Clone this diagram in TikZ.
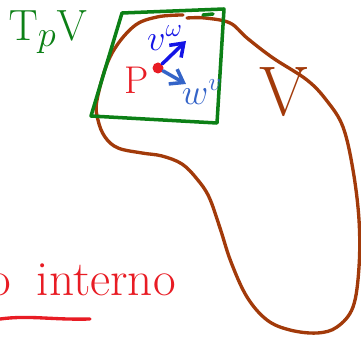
\documentclass[tikz,border=0pt]{standalone}
\usepackage{amsmath}
\usetikzlibrary{arrows.meta,positioning}
\definecolor{planegreen}{RGB}{12,128,22}
\definecolor{mbrown}{RGB}{162,58,10}
\definecolor{pred}{RGB}{232,28,36}
\definecolor{vblue}{RGB}{20,20,230}
\definecolor{wblue}{RGB}{52,100,200}

\begin{document}
\begin{tikzpicture}[
    x=0.02cm, y=-0.02cm,
    plane/.style={draw=planegreen, line width=2pt, line join=round, line cap=round},
    manifold/.style={draw=mbrown, line width=1.9pt, line cap=round},
    vecarrow/.style={-{Straight Barb[length=2.4mm, width=3.4mm]}, line width=2pt, line cap=round},
    lbl/.style={inner sep=0pt}
  ]
  \useasboundingbox (0,0) rectangle (361,337);

  % manifold V
  \draw[manifold] plot[smooth, tension=0.6] coordinates {
    (187,18) (205,18) (230,23) (247,38) (273,58) (307,80) (327,101)
    (343,127) (353,170) (359,220) (359,267) (353,307) (337,327)
    (317,333) (290,330) (267,320) (247,297) (231,262) (220,228)
    (209,197) (197,179) (182,164) (162,156) (142,153) (118,148)
    (105,137) (98,120) (97,100) (110,57) (133,27) (157,17) (183,15)};

  % tangent plane
  \draw[plane] (122,13) -- (224,9) -- (217,123) -- (91,116) -- cycle;
  \draw[plane] (203,15) -- (213,14);

  \node[lbl, text=planegreen, font=\fontsize{28}{28}\selectfont] (tpv) at (48,32) {$\mathrm{T}_{p}\mathrm{V}$};
  \node[lbl, text=mbrown, font=\fontsize{40}{40}\selectfont] (vname) at (284,92) {V};

  % point and vectors
  \node[circle, fill=pred, inner sep=0pt, minimum size=0.22cm] (p) at (158,68) {};
  \node[lbl, text=pred, font=\fontsize{22}{22}\selectfont] (plabel) at (137,80) {P};
  \coordinate (vtip) at (186,41);
  \coordinate (wtip) at (186,84);
  \draw[vecarrow, vblue] (p) -- (vtip);
  \draw[vecarrow, wblue] (p) -- (wtip);
  \node[lbl, text=vblue, font=\fontsize{20}{20}\selectfont] (vlabel) at (165,38) {$v^{\omega}$};
  \node[lbl, text=wblue, font=\fontsize{20}{20}\selectfont] (wlabel) at (202,92) {$w^{v}$};

  % title fragment
  \node[lbl, anchor=base east, text=pred, font=\fontsize{28}{28}\selectfont] (title) at (176,295) {o\hspace{15pt}interno};
  \draw[pred, line width=1.9pt, line cap=round] (0,319) .. controls (30,315) and (50,320) .. (90,319);
\end{tikzpicture}
\end{document}
